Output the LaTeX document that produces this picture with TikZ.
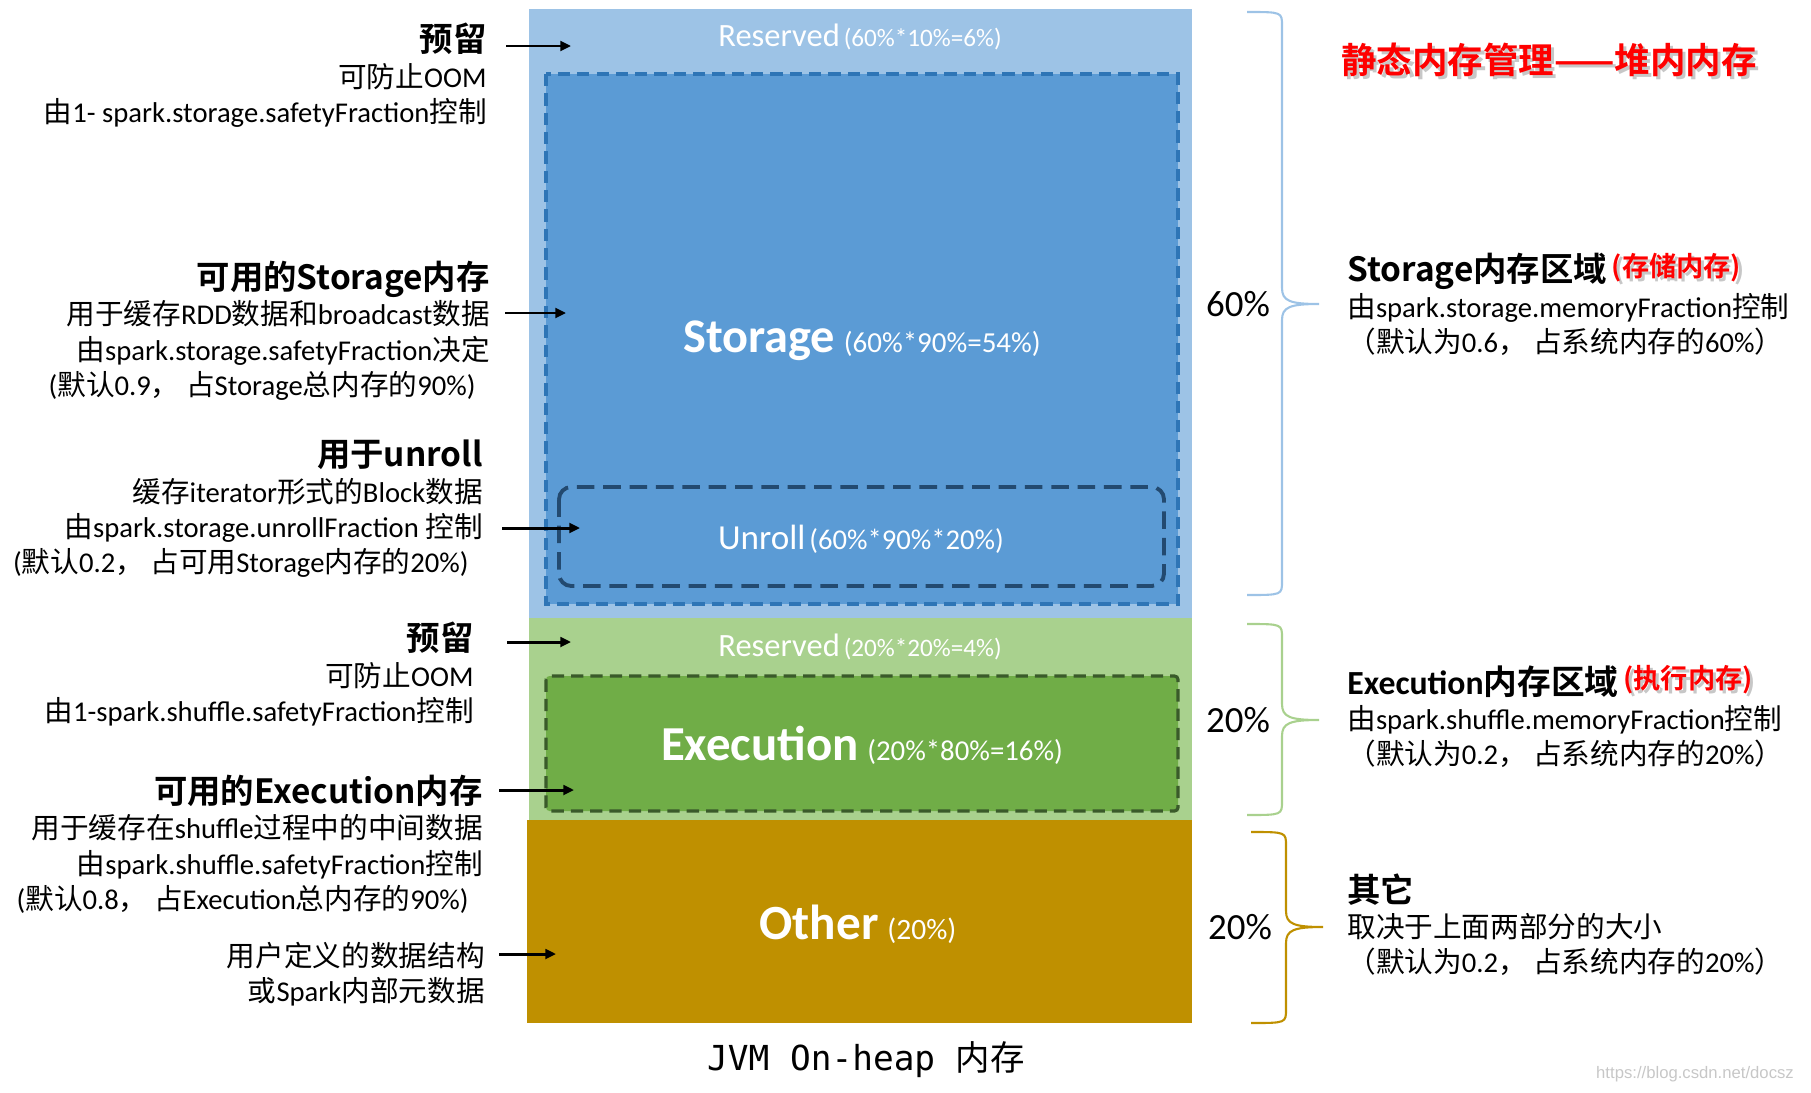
\documentclass[tikz,border=0pt]{standalone}
\usepackage{fontspec}
\setmainfont{Carlito}
\newfontfamily\cjkfont{Noto Sans CJK SC}[BoldFont={Noto Sans CJK SC Bold}]
\newfontfamily\jvmmono{DejaVu Sans Mono}
\newfontfamily\urlfont{Liberation Sans}
\usetikzlibrary{arrows.meta}
% han characters are set in the CJK font
\XeTeXinterchartokenstate=1
\newXeTeXintercharclass\hanclass
\newcount\hancode
\hancode="4E00
\loop
  \XeTeXcharclass\hancode=\hanclass
  \advance\hancode by 1
\ifnum\hancode<"A000 \repeat
\XeTeXcharclass"2014=\hanclass
\XeTeXcharclass"FF08=\hanclass
\XeTeXcharclass"FF09=\hanclass
\XeTeXcharclass"FF0C=\hanclass
\XeTeXinterchartoks 0 \hanclass = {\begingroup\cjkfont}
\XeTeXinterchartoks 4095 \hanclass = {\begingroup\cjkfont}
\XeTeXinterchartoks \hanclass 0 = {\endgroup}
\XeTeXinterchartoks \hanclass 4095 = {\endgroup}

\definecolor{heapblue}{HTML}{9DC3E6}
\definecolor{storeblue}{HTML}{5B9BD5}
\definecolor{storedash}{HTML}{2E75B6}
\definecolor{unrolldash}{HTML}{234A70}
\definecolor{heapgreen}{HTML}{A9D18E}
\definecolor{execgreen}{HTML}{70AD47}
\definecolor{execdash}{HTML}{3A5A2A}
\definecolor{heapgold}{HTML}{BF9000}

% bold heading and red tag with a soft shadow
\newcommand\hd[1]{{\cjkfont\bfseries\fontsize{19}{20}\selectfont #1}}
\newcommand\halotext[1]{%
  \leavevmode
  \rlap{\raisebox{-1.8pt}{\kern1.8pt\textcolor{black!22}{#1}}}%
  #1}
\newcommand\tagred[1]{\raisebox{3pt}{\cjkfont\bfseries\fontsize{15.5}{17}\selectfont\color{red}\halotext{#1}}}

\begin{document}
\begin{tikzpicture}[x=0.02cm,y=-0.02cm,
  note/.style={inner sep=0pt,align=right,anchor=north east,font=\fontsize{16.3}{20}\selectfont},
  rnote/.style={inner sep=0pt,align=left,anchor=north west,font=\fontsize{16.3}{20}\selectfont},
  inlabel/.style={text=white,inner sep=0pt},
  arr/.style={line width=1.7pt,-{Triangle[length=6pt,width=5.5pt]}}]
  \useasboundingbox (0,0) rectangle (1811,1092);
  % the three heap regions
  \fill[heapblue] (529,9) rectangle (1192,618);
  \fill[heapgreen] (529,618) rectangle (1192,820);
  \fill[heapgold] (527,820) rectangle (1192,1023);
  % usable parts, dashed
  \draw[storedash,fill=storeblue,line width=1.8pt,dash pattern=on 7pt off 4pt] (546,74) rectangle (1178,604);
  \draw[unrolldash,line width=2.2pt,dash pattern=on 10pt off 5pt,rounded corners=7pt] (559,487) rectangle (1164,586);
  \draw[execdash,fill=execgreen,line width=1.8pt,dash pattern=on 7pt off 4pt,rounded corners=2pt] (546,676) rectangle (1178,811);

  \node[inlabel] (res1) at (860,37) {{\fontsize{18.5}{20}\selectfont Reserved} {\fontsize{14.3}{16}\selectfont(60\%*10\%=6\%)}};
  \node[inlabel] (stor) at (862,341) {{\bfseries\fontsize{27.5}{30}\selectfont Storage}\enspace{\fontsize{16.5}{18}\selectfont(60\%*90\%=54\%)}};
  \node[inlabel] (unroll) at (861,539) {{\fontsize{20}{22}\selectfont Unroll} {\fontsize{16.3}{18}\selectfont(60\%*90\%*20\%)}};
  \node[inlabel] (res2) at (860,647) {{\fontsize{18.5}{20}\selectfont Reserved} {\fontsize{14.3}{16}\selectfont(20\%*20\%=4\%)}};
  \node[inlabel] (exec) at (862,745) {{\bfseries\fontsize{27.8}{30}\selectfont Execution}\enspace{\fontsize{16.4}{18}\selectfont(20\%*80\%=16\%)}};
  \node[inlabel] (other) at (858,924) {{\bfseries\fontsize{28}{30}\selectfont Other}\enspace{\fontsize{16.8}{18}\selectfont(20\%)}};
  \node[font=\jvmmono\fontsize{19.6}{22}\selectfont] (jvm) at (866,1060) {JVM On-heap 内存};

  % notes on the left
  \node[note] (l1) at (487,23) {\hd{预留}\\可防止OOM\\由1- spark.storage.safetyFraction控制};
  \node[note] (l2) at (490,261) {\hd{可用的Storage内存}\\用于缓存RDD数据和broadcast数据\\由spark.storage.safetyFraction决定\\(默认0.9， 占Storage总内存的90\%)\hspace*{8pt}};
  \node[note] (l3) at (483,440) {\hd{用于unroll}\\缓存iterator形式的Block数据\\由spark.storage.unrollFraction 控制\\(默认0.2， 占可用Storage内存的20\%)\hspace*{8pt}};
  \node[note] (l4) at (474,622) {\hd{预留}\\可防止OOM\\由1-spark.shuffle.safetyFraction控制};
  \node[note] (l5) at (483,775) {\hd{可用的Execution内存}\\用于缓存在shuffle过程中的中间数据\\由spark.shuffle.safetyFraction控制\\(默认0.8， 占Execution总内存的90\%)\hspace*{8pt}};
  \node[note] (l6) at (485,942) {用户定义的数据结构\\或Spark内部元数据};

  \coordinate (t1) at (571,46);
  \coordinate (t2) at (566,313);
  \coordinate (t3) at (580,528);
  \coordinate (t4) at (571,642);
  \coordinate (t5) at (574,790);
  \coordinate (t6) at (556,954);
  \foreach \n/\g in {1/19,2/15,3/19,4/33,5/16,6/14}
    \draw[arr] (l\n.north east |- t\n) ++(\g,0) -- (t\n);

  % braces and shares
  \foreach \c/\yt/\ym/\yb/\xo in {heapblue/12/304/595/0,heapgreen/624/720/815/0,heapgold/832/927/1023/4}
    \draw[\c,line width=1.2pt] (1247+\xo,\yt) .. controls (1282+\xo,\yt) .. (1282+\xo,\yt+14)
      -- (1282+\xo,\ym-16) .. controls (1282+\xo,\ym-3) and (1290+\xo,\ym) .. (1319+\xo,\ym)
      .. controls (1290+\xo,\ym) and (1282+\xo,\ym+3) .. (1282+\xo,\ym+16)
      -- (1282+\xo,\yb-14) .. controls (1282+\xo,\yb) .. (1247+\xo,\yb);
  \node[font=\fontsize{21}{24}\selectfont] (p1) at (1238,304) {60\%};
  \node[font=\fontsize{21}{24}\selectfont] (p2) at (1238,720) {20\%};
  \node[font=\fontsize{21}{24}\selectfont] (p3) at (1240,927) {20\%};

  % notes on the right
  \node[font=\cjkfont\bfseries\fontsize{20.2}{24}\selectfont,text=red] (title) at (1549,61) {\halotext{静态内存管理——堆内内存}};
  \node[rnote] (r1) at (1347,253) {\hd{Storage内存区域}\,\tagred{(存储内存)}\\由spark.storage.memoryFraction控制\\（默认为0.6， 占系统内存的60\%）};
  \node[rnote] (r2) at (1347,665) {{\bfseries\fontsize{19.2}{20}\selectfont Execution内存区域}\,\tagred{(执行内存)}\\由spark.shuffle.memoryFraction控制\\（默认为0.2， 占系统内存的20\%）};
  \node[rnote] (r3) at (1347,873) {\hd{其它}\\取决于上面两部分的大小\\（默认为0.2， 占系统内存的20\%）};

  \node[font=\urlfont\fontsize{9.5}{11}\selectfont,text=black!22,anchor=east] (wm) at (1800,1074) {https://blog.csdn.net/docsz};
\end{tikzpicture}
\end{document}
